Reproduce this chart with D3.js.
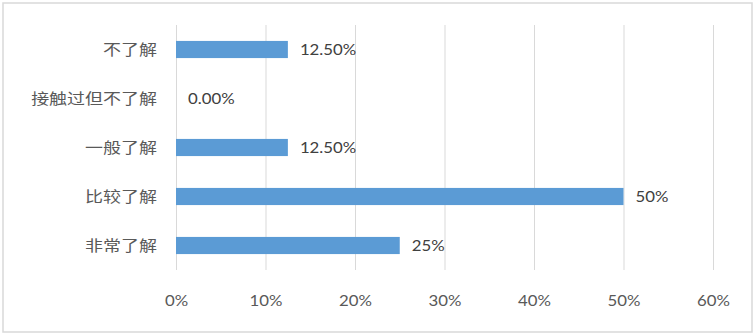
<!DOCTYPE html>
<html><head><meta charset="utf-8">
<script src="https://cdn.jsdelivr.net/npm/d3@7"></script>
<style>body{margin:0;background:#fff}</style>
</head><body>
<script>
const categories = ["不了解","接触过但不了解","一般了解","比较了解","非常了解"];
const values = [0.125, 0, 0.125, 0.5, 0.25];
const valueLabels = ["12.50%","0.00%","12.50%","50%","25%"];
const tickValues = [0,0.1,0.2,0.3,0.4,0.5,0.6];

const W=756,H=336;
const svg=d3.select("body").append("svg").attr("width",W).attr("height",H);
svg.append("rect").attr("x",3).attr("y",3).attr("width",749).attr("height",329)
  .attr("fill","#fff").attr("stroke","#d9d9d9").attr("stroke-width",1.5);

const x=d3.scaleLinear().domain([0,0.6]).range([176,713]);
const y=d3.scaleBand().domain(categories).range([25,270]).paddingInner(0.65).paddingOuter(0.325);

const numFont="Lato, 'Noto Sans', sans-serif";
const cjkFont="'Noto Sans CJK SC', sans-serif";
const sx=1.12;

// gridlines via axis
const gx=svg.append("g").attr("transform","translate(0,270)")
  .call(d3.axisBottom(x).tickValues(tickValues).tickSize(-245).tickFormat(d3.format(".0%")));
gx.select(".domain").remove();
gx.selectAll(".tick line").attr("stroke","#d9d9d9").attr("stroke-width",1);
gx.selectAll(".tick text").remove();
gx.selectAll(".tick").each(function(d){
  d3.select(this).append("text")
    .attr("transform",`translate(0,31) scale(${sx},1)`)
    .attr("text-anchor","middle").attr("dy","0.35em")
    .attr("fill","#595959").attr("font-family",numFont).attr("font-size",15)
    .text(d3.format(".0%")(d));
});

// bars
svg.selectAll("rect.bar").data(values).join("rect").attr("class","bar")
  .attr("x",x(0)).attr("y",(d,i)=>y(categories[i]))
  .attr("width",d=>x(d)-x(0)).attr("height",y.bandwidth())
  .attr("fill","#5B9BD5");

// category labels
svg.selectAll("text.cat").data(categories).join("text").attr("class","cat")
  .attr("transform",d=>`translate(157,${y(d)+y.bandwidth()/2}) scale(1.2,1)`)
  .attr("text-anchor","end").attr("dy","0.36em")
  .attr("fill","#595959").attr("font-family",cjkFont).attr("font-size",15)
  .text(d=>d);

// value labels
svg.selectAll("text.val").data(values).join("text").attr("class","val")
  .attr("transform",(d,i)=>`translate(${x(d)+12},${y(categories[i])+y.bandwidth()/2}) scale(${sx},1)`)
  .attr("dy","0.35em")
  .attr("fill","#404040").attr("font-family",numFont).attr("font-size",15)
  .text((d,i)=>valueLabels[i]);
</script>
</body></html>
